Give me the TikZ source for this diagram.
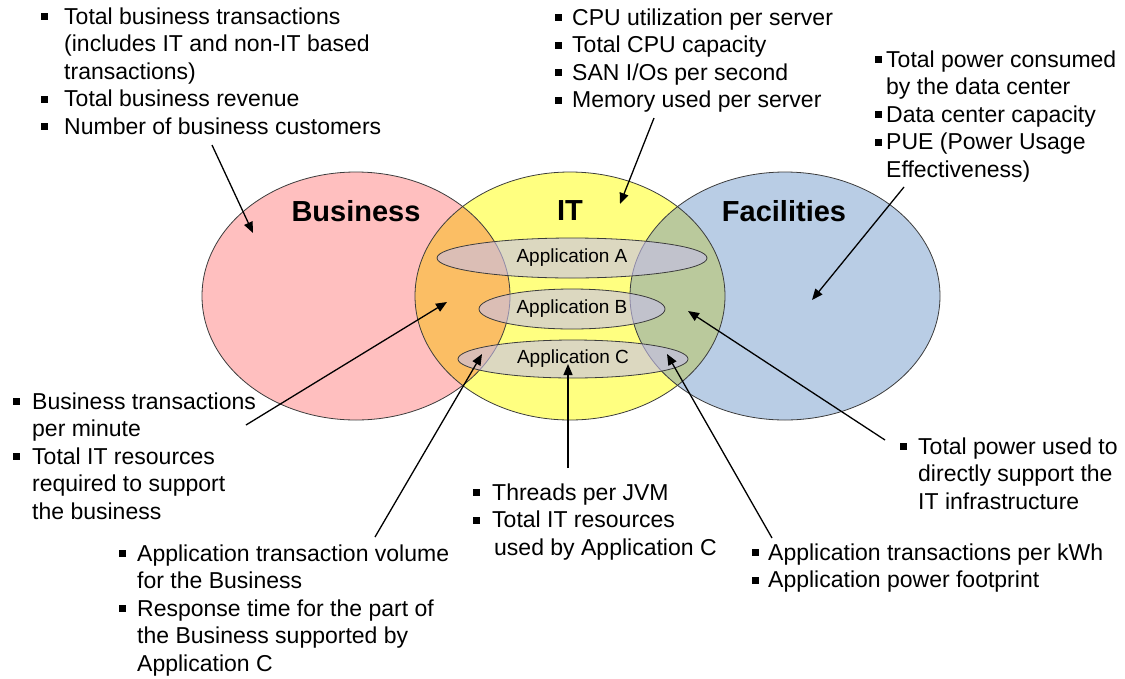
\documentclass[tikz,border=0pt]{standalone}
\usepackage{fontspec}
\setmainfont{Liberation Sans}
\usetikzlibrary{arrows.meta,shapes.geometric}
\definecolor{bizpink}{RGB}{255,191,191}
\definecolor{ityellow}{RGB}{255,255,128}
\definecolor{facblue}{RGB}{185,205,229}
\definecolor{bizit}{RGB}{251,190,100}
\definecolor{itfac}{RGB}{186,201,156}
\definecolor{appfill}{RGB}{198,190,236}
\definecolor{outl}{RGB}{60,60,60}
\newcommand{\bsq}{\rule[4pt]{7pt}{7pt}}
\tikzset{
  circ/.style={draw=outl, line width=0.8pt},
  app/.style={ellipse, draw=outl, line width=0.8pt, fill=appfill, fill opacity=0.6, text opacity=1,
              inner sep=0pt, font=\fontsize{19}{22}\selectfont},
  ttl/.style={font=\fontsize{29}{34}\selectfont\bfseries},
  blist/.style={anchor=base west, inner sep=0pt, font=\fontsize{23}{27.5}\selectfont},
  arr/.style={line width=1.3pt, -{Triangle[length=11pt, width=9pt]}}
}
\begin{document}
\begin{tikzpicture}[x=1pt,y=-1pt]
\useasboundingbox (0,0) rectangle (1125,678);
% big regions
\fill[bizpink] (356,296) ellipse [x radius=154pt, y radius=124pt];
\fill[ityellow] (570,296) ellipse [x radius=155pt, y radius=124pt];
\fill[facblue] (785,296) ellipse [x radius=155pt, y radius=124pt];
\begin{scope}
  \clip (356,296) ellipse [x radius=154pt, y radius=124pt];
  \fill[bizit] (570,296) ellipse [x radius=155pt, y radius=124pt];
\end{scope}
\begin{scope}
  \clip (570,296) ellipse [x radius=155pt, y radius=124pt];
  \fill[itfac] (785,296) ellipse [x radius=155pt, y radius=124pt];
\end{scope}
\draw[circ] (356,296) ellipse [x radius=154pt, y radius=124pt];
\draw[circ] (570,296) ellipse [x radius=155pt, y radius=124pt];
\draw[circ] (785,296) ellipse [x radius=155pt, y radius=124pt];

% titles
\node[ttl] (tbus) at (356,211) {Business};
\node[ttl] (tit) at (570,211) {IT};
\node[ttl] (tfac) at (784,211) {Facilities};

% applications
\node[app, minimum width=270pt, minimum height=40pt] (appA) at (572,258) {Application A};
\node[app, minimum width=186pt, minimum height=40pt] (appB) at (572,309) {Application B};
\node[app, minimum width=230pt, minimum height=38pt] (appC) at (573,359) {Application C};

% bullet lists
\node[blist] (b1) at (41,24) {\begin{tabular}[t]{@{}l@{\hspace{16pt}}l@{}}
\bsq & Total business transactions\\
 & (includes IT and non-IT based\\
 & transactions)\\
\bsq & Total business revenue\\
\bsq & Number of business customers
\end{tabular}};
\node[blist] (b2) at (555,25) {\begin{tabular}[t]{@{}l@{\hspace{10pt}}l@{}}
\bsq & CPU utilization per server\\
\bsq & Total CPU capacity\\
\bsq & SAN I/Os per second\\
\bsq & Memory used per server
\end{tabular}};
\node[blist] (b3) at (875,67) {\begin{tabular}[t]{@{}l@{\hspace{4pt}}l@{}}
\bsq & Total power consumed\\
 & by the data center\\
\bsq & Data center capacity\\
\bsq & PUE (Power Usage\\
 & Effectiveness)
\end{tabular}};
\node[blist] (b4) at (13,409) {\begin{tabular}[t]{@{}l@{\hspace{12pt}}l@{}}
\bsq & Business transactions\\
 & per minute\\
\bsq & Total IT resources\\
 & required to support\\
 & the business
\end{tabular}};
\node[blist] (b5) at (119,561) {\begin{tabular}[t]{@{}l@{\hspace{11pt}}l@{}}
\bsq & Application transaction volume\\
 & for the Business\\
\bsq & Response time for the part of\\
 & the Business supported by\\
 & Application C
\end{tabular}};
\node[blist] (b6) at (473,500) {\begin{tabular}[t]{@{}l@{\hspace{12pt}}l@{}}
\bsq & Threads per JVM\\
\bsq & Total IT resources\\
 & \hspace{2pt}used by Application C
\end{tabular}};
\node[blist] (b7) at (900,454) {\begin{tabular}[t]{@{}l@{\hspace{11pt}}l@{}}
\bsq & Total power used to\\
 & directly support the\\
 & IT infrastructure
\end{tabular}};
\node[blist] (b8) at (752,560) {\begin{tabular}[t]{@{}l@{\hspace{9pt}}l@{}}
\bsq & Application transactions per kWh\\
\bsq & Application power footprint
\end{tabular}};

% arrow ends
\coordinate (s1) at (212,145); \coordinate (t1) at (253,233);
\coordinate (s2) at (654,118); \coordinate (t2) at (620,204);
\coordinate (s3) at (904,187); \coordinate (t3) at (812,300);
\coordinate (s4) at (246,425); \coordinate (t4) at (447,302);
\coordinate (s5) at (375,537); \coordinate (t5) at (482,354);
\coordinate (s6) at (568,468); \coordinate (t6) at (568,364);
\coordinate (s7) at (885,440); \coordinate (t7) at (688,311);
\coordinate (s8) at (772,538); \coordinate (t8) at (667,354);
\foreach \i in {1,...,8} { \draw[arr] (s\i) -- (t\i); }
\end{tikzpicture}
\end{document}
